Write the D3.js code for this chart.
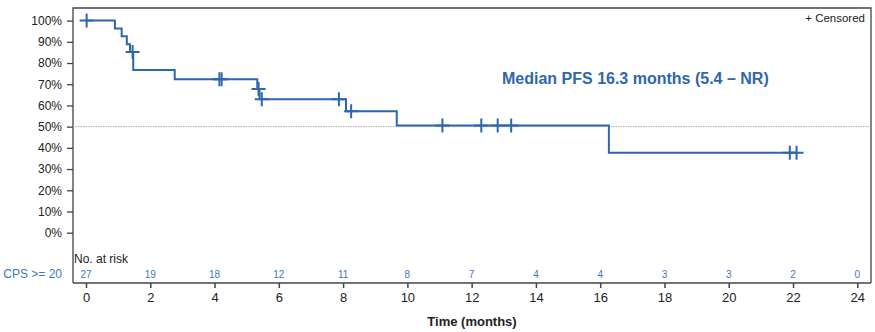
<!DOCTYPE html>
<html>
<head>
<meta charset="utf-8">
<script src="https://cdn.jsdelivr.net/npm/d3@7"></script>
<style>
  body { margin: 0; background: #fff; }
  svg { font-family: "Liberation Sans", Arial, sans-serif; }
</style>
</head>
<body>
<script>
// Variables
const w = 875;
const h = 332;
const frameLeft = 73, frameRight = 871, frameTop = 8, axisY = 283;

// Datos: escalones de la curva KM (tiempo en meses, supervivencia)
const stepTimes = [0, 0.90, 1.11, 1.27, 1.37, 1.47, 2.76, 5.33, 5.40, 8.09, 9.67, 16.27];
const stepSurv  = [1.0, 0.963, 0.926, 0.889, 0.852, 0.767, 0.723, 0.677, 0.629, 0.573, 0.506, 0.377];
const endTime = 22.11;

// Censurados
const censorTimes = [0.02, 1.45, 4.15, 4.22, 5.37, 5.47, 7.87, 8.25, 11.09, 12.30, 12.81, 13.23, 21.90, 22.11];

// Número en riesgo
const riskTimes = [0, 2, 4, 6, 8, 10, 12, 14, 16, 18, 20, 22, 24];
const riskCounts = [27, 19, 18, 12, 11, 8, 7, 4, 4, 3, 3, 2, 0];

const yTicks = [0, 0.1, 0.2, 0.3, 0.4, 0.5, 0.6, 0.7, 0.8, 0.9, 1.0];
const xTicks = [0, 2, 4, 6, 8, 10, 12, 14, 16, 18, 20, 22, 24];

const blue = "#2e66b0";
const riskBlue = "#3f77c0";

// SVG
const svg = d3.select("body").append("svg")
  .attr("width", w).attr("height", h);

// Escalas
const xScale = d3.scaleLinear().domain([0, 24]).range([86, 857.3]);
const yScale = d3.scaleLinear().domain([0, 1]).range([232.7, 20.6]);

// Supervivencia en un tiempo t
function survAt(t) {
  let s = 1;
  for (let i = 0; i < stepTimes.length; i++) {
    if (stepTimes[i] <= t) s = stepSurv[i];
  }
  return s;
}

// Marco
svg.append("path")
  .attr("d", `M${frameLeft},${axisY}V${frameTop}H${frameRight}V${axisY}`)
  .attr("fill", "none")
  .attr("stroke", "#444")
  .attr("stroke-width", 1.3);

// Línea 50%
svg.append("line")
  .attr("x1", frameLeft).attr("x2", frameRight)
  .attr("y1", yScale(0.5)).attr("y2", yScale(0.5))
  .attr("stroke", "#aaa")
  .attr("stroke-width", 1)
  .attr("stroke-dasharray", "1.5,1");

// Eje Y
const yAxis = d3.axisLeft(yScale)
  .tickValues(yTicks)
  .tickSize(6)
  .tickFormat(d => Math.round(d * 100) + "%");
const gy = svg.append("g")
  .attr("transform", `translate(${frameLeft},0)`)
  .call(yAxis);
gy.select(".domain").remove();
gy.selectAll(".tick line").attr("stroke", "#444").attr("stroke-width", 1.3);
gy.selectAll(".tick text")
  .attr("x", -11)
  .attr("font-size", "12px")
  .attr("font-family", "Liberation Sans, Arial, sans-serif")
  .attr("fill", "#222");

// Eje X
const xAxis = d3.axisBottom(xScale)
  .tickValues(xTicks)
  .tickSize(5)
  .tickFormat(d => d);
const gx = svg.append("g")
  .attr("transform", `translate(0,${axisY})`)
  .call(xAxis);
gx.select(".domain").remove();
gx.append("line")
  .attr("x1", frameLeft).attr("x2", frameRight)
  .attr("stroke", "#444").attr("stroke-width", 1.5);
gx.selectAll(".tick line").attr("stroke", "#444").attr("stroke-width", 1.5);
gx.selectAll(".tick text")
  .attr("y", 10)
  .attr("font-size", "13px")
  .attr("font-family", "Liberation Sans, Arial, sans-serif")
  .attr("fill", "#222");

// Título eje X
svg.append("text")
  .attr("x", (frameLeft + frameRight) / 2)
  .attr("y", 326)
  .attr("text-anchor", "middle")
  .attr("font-size", "13px")
  .attr("font-weight", "bold")
  .attr("fill", "#222")
  .text("Time (months)");

// Curva KM
const pts = [];
stepTimes.forEach((t, i) => {
  if (i > 0) pts.push([t, stepSurv[i - 1]]);
  pts.push([t, stepSurv[i]]);
});
pts.push([endTime, stepSurv[stepSurv.length - 1]]);

const line = d3.line()
  .x(d => xScale(d[0]))
  .y(d => yScale(d[1]));

svg.append("path")
  .datum(pts)
  .attr("d", line)
  .attr("fill", "none")
  .attr("stroke", blue)
  .attr("stroke-width", 2);

// Marcas de censura
const cz = 7;
svg.selectAll(".censor")
  .data(censorTimes)
  .enter()
  .append("path")
  .attr("class", "censor")
  .attr("d", t => {
    const cx = xScale(t), cy = yScale(survAt(t));
    return `M${cx - cz},${cy}H${cx + cz}M${cx},${cy - cz}V${cy + cz}`;
  })
  .attr("stroke", blue)
  .attr("stroke-width", 2)
  .attr("fill", "none");

// Texto de la mediana
svg.append("text")
  .attr("x", 502)
  .attr("y", 83.5)
  .attr("font-size", "16px")
  .attr("font-weight", "bold")
  .attr("fill", blue)
  .text("Median PFS 16.3 months (5.4 – NR)");

// Leyenda censurado
svg.append("text")
  .attr("x", 865)
  .attr("y", 22)
  .attr("text-anchor", "end")
  .attr("font-size", "11.5px")
  .attr("fill", "#222")
  .text("+ Censored");

// Número en riesgo
svg.append("text")
  .attr("x", 74)
  .attr("y", 263)
  .attr("font-size", "12px")
  .attr("fill", "#222")
  .text("No. at risk");

svg.selectAll(".risk-label")
  .data(["CPS >= 20"])
  .enter()
  .append("text")
  .attr("class", "risk-label")
  .attr("x", 62)
  .attr("y", 278)
  .attr("text-anchor", "end")
  .attr("font-size", "12px")
  .attr("fill", riskBlue)
  .text(d => d);

svg.selectAll(".risk")
  .data(riskCounts)
  .enter()
  .append("text")
  .attr("class", "risk")
  .attr("x", (d, i) => xScale(riskTimes[i]))
  .attr("y", 278)
  .attr("text-anchor", "middle")
  .attr("font-size", "10px")
  .attr("fill", riskBlue)
  .text(d => d);
</script>
</body>
</html>
